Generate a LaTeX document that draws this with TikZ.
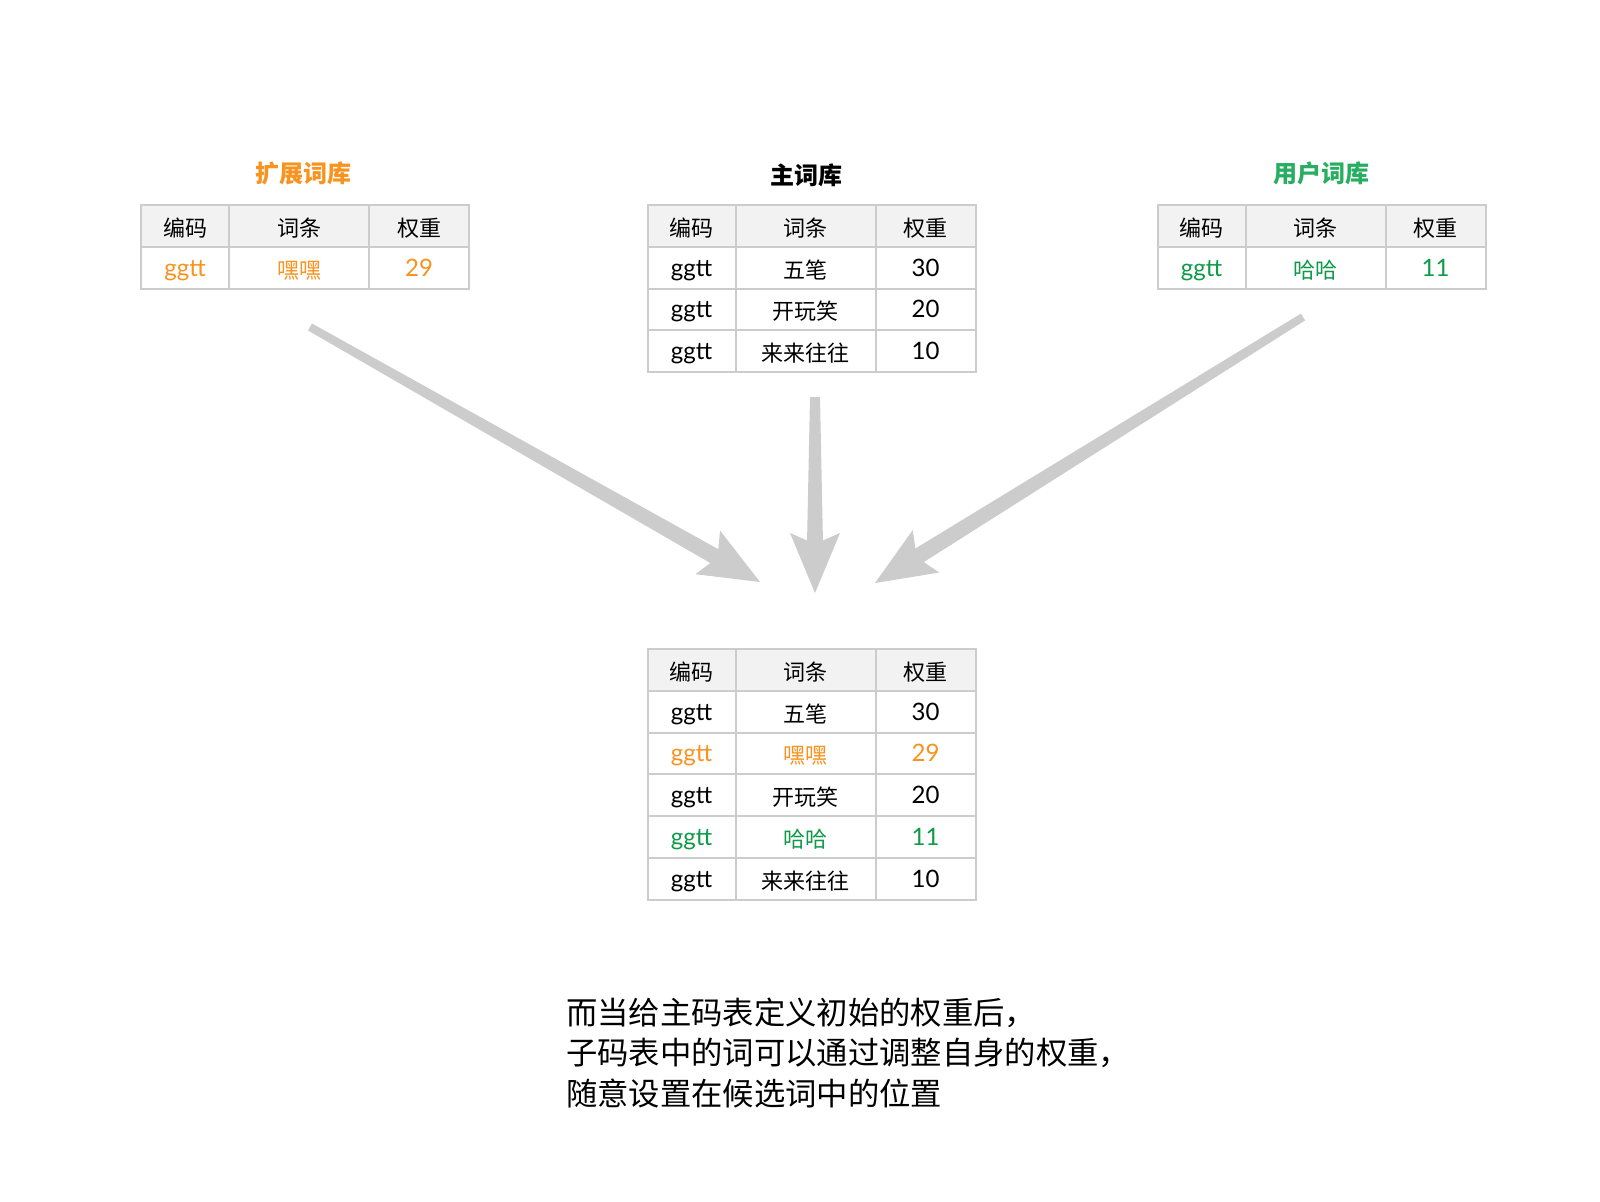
\documentclass[tikz,border=0pt]{standalone}
\usepackage{fontspec}
\setmainfont{Lato}
\newfontfamily\cjk{Noto Sans CJK SC}
\usetikzlibrary{calc}
\definecolor{lineg}{HTML}{CCCCCC}
\definecolor{headg}{HTML}{F2F2F2}
\definecolor{orangeT}{HTML}{F7931E}
\definecolor{greenT}{HTML}{27AE60}
\definecolor{greenC}{HTML}{0E9A48}
\definecolor{arrowg}{HTML}{CCCCCC}
\newcommand\zh[1]{\raisebox{-1.5pt}{\cjk\fontsize{16.5pt}{20pt}\selectfont #1}}
\tikzset{
  cellbox/.style={draw=lineg,line width=1.5pt,inner sep=0pt,outer sep=0pt,
    minimum height=31.35pt,font=\fontsize{18pt}{20pt}\selectfont,
    text height=14pt,text depth=1.5pt},
  headrow/.style={fill=headg},
  plainrow/.style={fill=white},
  titletext/.style={font=\cjk\fontsize{18pt}{22pt}\selectfont\bfseries,inner sep=0pt},
  notetext/.style={font=\cjk\fontsize{23.5pt}{30.4pt}\selectfont,align=left,inner sep=0pt,anchor=west},
}
% one table row: #1 name prefix, #2 north-west point, #3-#5 cell texts, #6 style
\newcommand\trow[6]{%
  \node[cellbox,minimum width=66pt,anchor=north west,#6] (#1a) at #2 {#3};
  \node[cellbox,minimum width=105pt,anchor=north west,#6] (#1b) at (#1a.north east) {#4};
  \node[cellbox,minimum width=75pt,anchor=north west,#6] (#1c) at (#1b.north east) {#5};}
% tapered arrow: #1 start coord, #2 tip coord, #3 half width at start
\newcommand\taparrow[3]{%
  \coordinate (#2n) at ($(#2)!36.75pt!(#1)$);
  \coordinate (#2b) at ($(#2)!45pt!(#1)$);
  \fill[arrowg] ($(#1)!#3!90:(#2)$) -- ($(#2n)!6pt!90:(#2)$) -- ($(#2n)!6pt!-90:(#2)$) -- ($(#1)!#3!-90:(#2)$) -- cycle;
  \fill[arrowg] (#2) -- ($(#2b)!18.75pt!90:(#2)$) -- (#2n) -- ($(#2b)!18.75pt!-90:(#2)$) -- cycle;}
\begin{document}
\begin{tikzpicture}[x=0.75pt,y=-0.75pt]
\fill[white] (0,0) rectangle (1600,1202);
\useasboundingbox (0,0) rectangle (1600,1202);

% titles
\node[titletext,text=orangeT] (tl) at (303,173) {扩展词库};
\node[titletext,text=black] (tm) at (806,175) {主词库};
\node[titletext,text=greenT] (tr) at (1321,173) {用户词库};

% left table
\trow{lh}{(141,205)}{\zh{编码}}{\zh{词条}}{\zh{权重}}{headrow}
\trow{lr}{(lha.south west)}{ggtt}{\zh{嘿嘿}}{29}{plainrow,text=orangeT}

% middle table
\trow{mh}{(647.5,205)}{\zh{编码}}{\zh{词条}}{\zh{权重}}{headrow}
\trow{ma}{(mha.south west)}{ggtt}{\zh{五笔}}{30}{plainrow}
\trow{mb}{(maa.south west)}{ggtt}{\zh{开玩笑}}{20}{plainrow}
\trow{mc}{(mba.south west)}{ggtt}{\zh{来来往往}}{10}{plainrow}

% right table
\trow{rh}{(1157.5,205)}{\zh{编码}}{\zh{词条}}{\zh{权重}}{headrow}
\trow{rr}{(rha.south west)}{ggtt}{\zh{哈哈}}{11}{plainrow,text=greenC}

% bottom table
\trow{bh}{(647.5,649)}{\zh{编码}}{\zh{词条}}{\zh{权重}}{headrow}
\trow{ba}{(bha.south west)}{ggtt}{\zh{五笔}}{30}{plainrow}
\trow{bb}{(baa.south west)}{ggtt}{\zh{嘿嘿}}{29}{plainrow,text=orangeT}
\trow{bc}{(bba.south west)}{ggtt}{\zh{开玩笑}}{20}{plainrow}
\trow{bd}{(bca.south west)}{ggtt}{\zh{哈哈}}{11}{plainrow,text=greenC}
\trow{be}{(bda.south west)}{ggtt}{\zh{来来往往}}{10}{plainrow}

% arrows
\coordinate (las) at (310,327);
\coordinate (lat) at (760,582);
\coordinate (mas) at (815,397);
\coordinate (mat) at (815,593);
\coordinate (ras) at (1303,317);
\coordinate (rat) at (875,583);
\taparrow{las}{lat}{3pt}
\taparrow{mas}{mat}{3.75pt}
\taparrow{ras}{rat}{3pt}

% note
\node[notetext] (note) at (566,1053) {而当给主码表定义初始的权重后，\\子码表中的词可以通过调整自身的权重，\\随意设置在候选词中的位置};
\end{tikzpicture}
\end{document}
